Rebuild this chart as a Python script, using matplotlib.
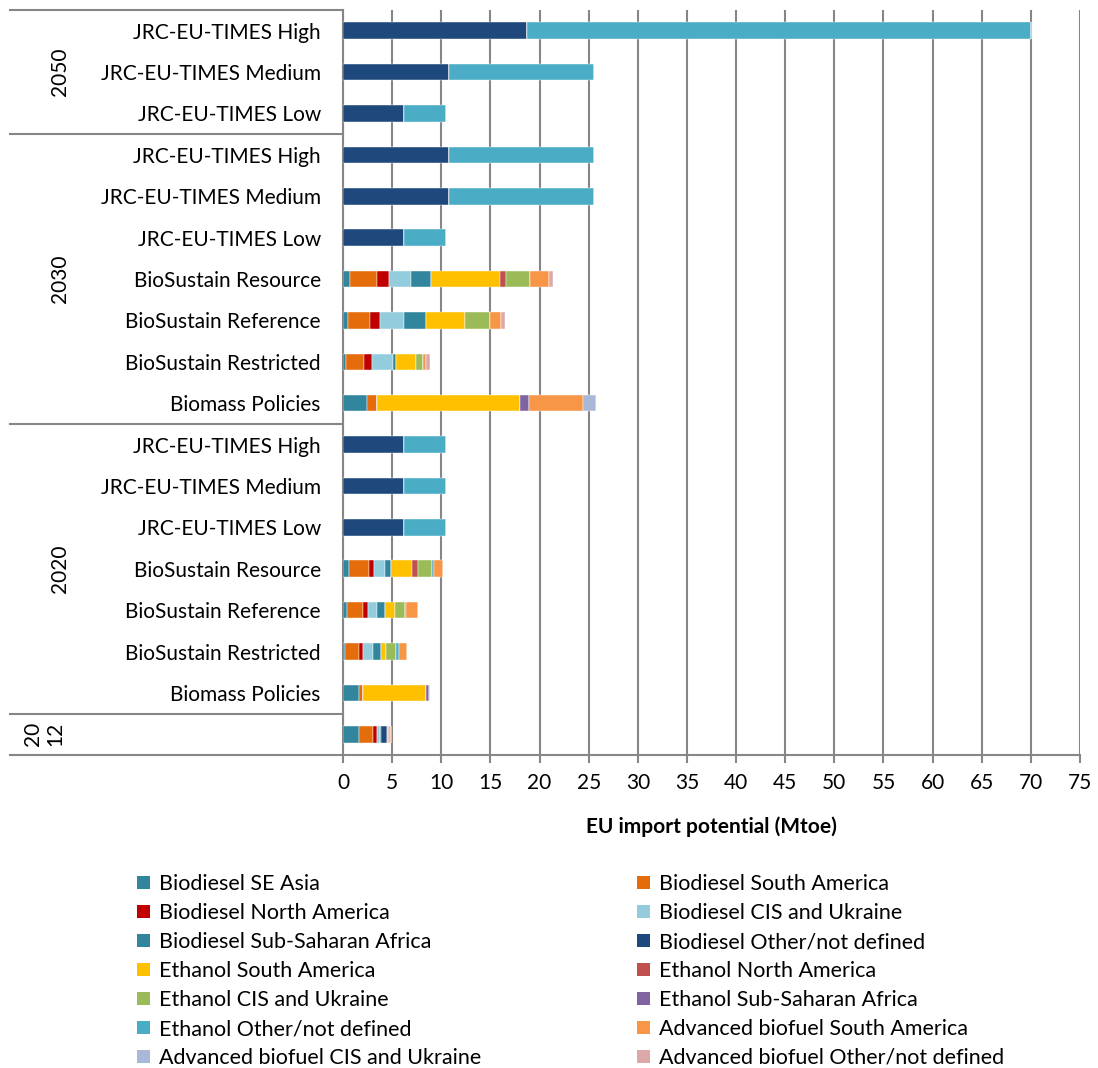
import matplotlib
matplotlib.use("Agg")
import matplotlib.pyplot as plt
from matplotlib.patches import Patch
from matplotlib.lines import Line2D
import matplotlib.transforms as mtransforms
import numpy as np

plt.rcParams['font.family'] = ['Lato', 'DejaVu Sans']

# ---------------- data ----------------
row_labels = ["JRC-EU-TIMES High", "JRC-EU-TIMES Medium", "JRC-EU-TIMES Low",
              "JRC-EU-TIMES High", "JRC-EU-TIMES Medium", "JRC-EU-TIMES Low",
              "BioSustain Resource", "BioSustain Reference", "BioSustain Restricted",
              "Biomass Policies",
              "JRC-EU-TIMES High", "JRC-EU-TIMES Medium", "JRC-EU-TIMES Low",
              "BioSustain Resource", "BioSustain Reference", "BioSustain Restricted",
              "Biomass Policies",
              ""]
year_groups = ["2050", "2030", "2020", "20\n12"]
group_sizes = [3, 7, 7, 1]

series_names = ["Biodiesel SE Asia", "Biodiesel South America", "Biodiesel North America",
                "Biodiesel CIS and Ukraine", "Biodiesel Sub-Saharan Africa",
                "Biodiesel Other/not defined", "Ethanol South America",
                "Ethanol North America", "Ethanol CIS and Ukraine",
                "Ethanol Sub-Saharan Africa", "Ethanol Other/not defined",
                "Advanced biofuel South America", "Advanced biofuel CIS and Ukraine",
                "Advanced biofuel Other/not defined"]

bd_se_asia  = [0, 0, 0, 0, 0, 0, 0.74, 0.50, 0.27, 2.43, 0, 0, 0, 0.57, 0.41, 0.20, 1.62, 1.62]
bd_south_am = [0, 0, 0, 0, 0, 0, 2.70, 2.20, 1.86, 0.98, 0, 0, 0, 2.03, 1.62, 1.42, 0.37, 1.48]
bd_north_am = [0, 0, 0, 0, 0, 0, 1.20, 1.05, 0.87, 0, 0, 0, 0, 0.60, 0.47, 0.44, 0, 0.40]
bd_cis      = [0, 0, 0, 0, 0, 0, 2.30, 2.50, 2.10, 0, 0, 0, 0, 1.06, 0.95, 1.01, 0, 0.30]
bd_ssa      = [0, 0, 0, 0, 0, 0, 2.03, 2.23, 0.27, 0, 0, 0, 0, 0.67, 0.81, 0.75, 0, 0.08]
bd_other    = [18.75, 10.8, 6.2, 10.8, 10.8, 6.2, 0, 0, 0, 0, 6.2, 6.2, 6.2, 0, 0, 0, 0, 0.57]
eth_sa      = [0, 0, 0, 0, 0, 0, 7.00, 3.90, 2.10, 14.63, 0, 0, 0, 2.13, 1.01, 0.54, 6.46, 0.12]
eth_na      = [0, 0, 0, 0, 0, 0, 0.60, 0, 0, 0, 0, 0, 0, 0.61, 0, 0, 0, 0.10]
eth_cis     = [0, 0, 0, 0, 0, 0, 2.50, 2.60, 0.70, 0, 0, 0, 0, 1.38, 1.01, 1.08, 0, 0.05]
eth_ssa     = [0, 0, 0, 0, 0, 0, 0, 0, 0, 0.91, 0, 0, 0, 0, 0, 0, 0.30, 0]
eth_other   = [51.25, 14.75, 4.3, 14.75, 14.75, 4.3, 0, 0, 0, 0, 4.3, 4.3, 4.3, 0.20, 0.17, 0.24, 0, 0.10]
adv_sa      = [0, 0, 0, 0, 0, 0, 1.85, 1.10, 0.30, 5.44, 0, 0, 0, 0.88, 1.15, 0.81, 0.14, 0.05]
adv_cis     = [0, 0, 0, 0, 0, 0, 0, 0, 0, 1.32, 0, 0, 0, 0, 0, 0, 0, 0]
adv_other   = [0, 0, 0, 0, 0, 0, 0.50, 0.45, 0.40, 0, 0, 0, 0, 0, 0, 0, 0, 0]

series_values = [bd_se_asia, bd_south_am, bd_north_am, bd_cis, bd_ssa, bd_other,
                 eth_sa, eth_na, eth_cis, eth_ssa, eth_other, adv_sa, adv_cis, adv_other]

colors = ["#31859C", "#E46C0A", "#C00000", "#93CDDD", "#31859C", "#1F497D",
          "#FFC000", "#C0504D", "#9BBB59", "#8064A2", "#4BACC6", "#F79646",
          "#A9B8D8", "#DDA9A8"]

x_ticks = list(range(0, 80, 5))

# ---------------- figure ----------------
FS = 15
W, H = 1098, 1068
fig = plt.figure(figsize=(W / 100, H / 100), dpi=100)
ax = fig.add_axes([343 / W, 1 - 755 / H, (1080 - 343) / W, (755 - 10) / H])

n = len(row_labels)
y = np.arange(n)
left = np.zeros(n)
for name, vals, col in zip(series_names, series_values, colors):
    vals = np.array(vals, dtype=float)
    ax.barh(y, vals, left=left, height=0.4, color=col, edgecolor='white',
            linewidth=0.3, label=name, zorder=3)
    left += vals

ax.set_ylim(n - 0.5, -0.5)
ax.set_xlim(0, 75)
ax.set_xticks(x_ticks)
ax.set_xticklabels([str(t) for t in x_ticks], fontsize=FS)
ax.set_yticks(y)
ax.set_yticklabels(row_labels, fontsize=FS)
ax.tick_params(axis='y', length=0, pad=16)
ax.tick_params(axis='x', length=6, width=1.5, color='#868686', pad=7)
ax.grid(axis='x', color='#868686', linewidth=1.5, zorder=0)
ax.set_axisbelow(True)
for s in ['top', 'right']:
    ax.spines[s].set_visible(False)
for s in ['left', 'bottom']:
    ax.spines[s].set_color('#868686')
    ax.spines[s].set_linewidth(1.5)
ax.set_xlabel("EU import potential (Mtoe)", fontsize=FS, fontweight='bold', labelpad=17)

# group separators and year labels
trans = mtransforms.blended_transform_factory(fig.transFigure, ax.transData)
x0 = 10 / W
x1 = 343 / W
bounds = np.concatenate([[0], np.cumsum(group_sizes)]) - 0.5
for b in bounds:
    ax.add_line(Line2D([x0, x1], [b, b], transform=trans, color='#868686',
                       linewidth=1.5, clip_on=False))
for g, lab in enumerate(year_groups):
    yc = (bounds[g] + bounds[g + 1]) / 2
    xc = 44 / W if "\n" in lab else 60 / W
    ax.text(xc, yc, lab, transform=trans, rotation=90, ha='center', va='center',
            fontsize=FS, linespacing=1.1)

# legend (row-major order like the original)
handles = [Patch(facecolor=c, edgecolor='none') for c in colors]
order = list(range(0, 14, 2)) + list(range(1, 14, 2))
fig.legend([handles[i] for i in order], [series_names[i] for i in order],
           ncol=2, loc='upper left', bbox_to_anchor=(118 / W, 1 - 855 / H),
           frameon=False, fontsize=15.5, handlelength=0.58, handleheight=0.58,
           handletextpad=0.42, columnspacing=7.25, labelspacing=0.415)

fig.savefig("out.png", dpi=100)
